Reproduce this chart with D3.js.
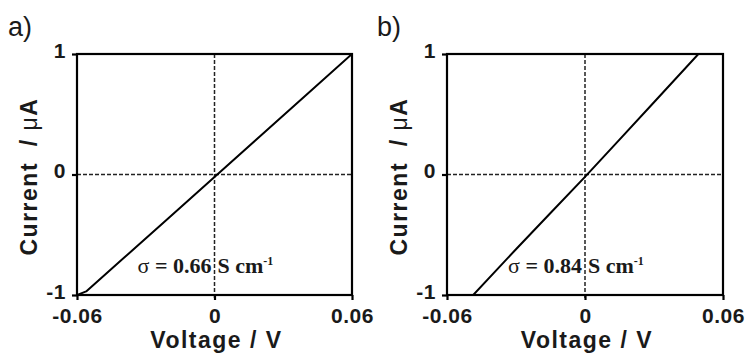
<!DOCTYPE html>
<html>
<head>
<meta charset="utf-8">
<script src="https://cdn.jsdelivr.net/npm/d3@7"></script>
<style>
  body { margin: 0; background: #fff; }
  svg { display: block; }
  .tick text { font-family: "Liberation Sans", Arial, sans-serif; font-weight: bold; font-size: 21px; letter-spacing: 0.5px; fill: #1a1a1a; }
</style>
</head>
<body>
<div id="output"></div>
<script>
// x and y ticks shared by both panels
const xTicks = [-0.06, 0, 0.06];
const xTickLabels = ["-0.06", "0", "0.06"];
const yTicks = [-1, 0, 1];
const yTickLabels = ["-1", "0", "1"];

// panel a) I-V sweep
const voltageA = [-0.06, -0.056, -0.04, -0.02, 0, 0.02, 0.04, 0.06];
const currentA = [-1, -0.97, -0.70, -0.36, -0.02, 0.32, 0.66, 1];

// panel b) I-V sweep
const voltageB = [-0.0486, -0.03, -0.015, 0, 0.015, 0.03, 0.0493];
const currentB = [-1, -0.62, -0.32, -0.02, 0.29, 0.60, 1];

const panelLabels = ["a)", "b)"];
const sigmaValues = ["0.66", "0.84"];

// layout (pixels)
var height = 356, width = 750;
var boxes = [
    {left: 77, right: 352, top: 54, bottom: 295},
    {left: 447, right: 723, top: 54, bottom: 295}
];
var labelX = [8, 377];

var svg = d3.select("#output")
    .append("svg")
    .attr("width", width)
    .attr("height", height);

function panel(i, voltage, current){
    var b = boxes[i];
    var x = d3.scaleLinear().domain([-0.06, 0.06]).range([b.left, b.right]);
    var y = d3.scaleLinear().domain([-1, 1]).range([b.bottom, b.top]);

    var g = svg.append("g");

    // clip so the trace stops at the frame
    g.append("clipPath")
	.attr("id", "clip" + i)
	.append("rect")
	.attr("x", b.left).attr("y", b.top)
	.attr("width", b.right - b.left).attr("height", b.bottom - b.top);

    // dashed zero lines
    g.append("line")
	.attr("x1", x(0)).attr("x2", x(0))
	.attr("y1", y(1)).attr("y2", y(-1) + 4)
	.attr("stroke", "#222").attr("stroke-width", 1.5)
	.attr("stroke-dasharray", "4,2");
    g.append("line")
	.attr("x1", x(-0.06)).attr("x2", x(0.06))
	.attr("y1", y(0)).attr("y2", y(0))
	.attr("stroke", "#222").attr("stroke-width", 1.5)
	.attr("stroke-dasharray", "4,2");

    // the measured trace
    const line = d3.line()
	  .x(d => x(d[0]))
	  .y(d => y(d[1]));
    g.append("path")
	.datum(d3.zip(voltage, current))
	.attr("clip-path", "url(#clip" + i + ")")
	.attr("fill", "none")
	.attr("stroke", "#000")
	.attr("stroke-width", 2)
	.attr("stroke-linejoin", "round")
	.attr("d", line);

    // frame
    g.append("rect")
	.attr("x", b.left).attr("y", b.top)
	.attr("width", b.right - b.left).attr("height", b.bottom - b.top)
	.attr("fill", "none").attr("stroke", "#000").attr("stroke-width", 2.2);

    // axes
    var xAxis = g.append("g")
	.attr("transform", "translate(0," + b.bottom + ")")
	.call(d3.axisBottom(x).tickValues(xTicks)
	      .tickFormat((d, k) => xTickLabels[k])
	      .tickSize(5).tickSizeOuter(0).tickPadding(8));
    var yAxis = g.append("g")
	.attr("transform", "translate(" + b.left + ",0)")
	.call(d3.axisLeft(y).tickValues(yTicks)
	      .tickFormat((d, k) => yTickLabels[k])
	      .tickSize(5).tickSizeOuter(0).tickPadding(6));
    yAxis.selectAll(".tick text").attr("dy", "0.15em");
    [xAxis, yAxis].forEach(a => {
	a.select(".domain").remove();
	a.selectAll(".tick line").attr("stroke", "#000").attr("stroke-width", 2.2);
    });

    // axis titles
    g.append("text")
	.attr("x", (b.left + b.right) / 2 + 2)
	.attr("y", 348)
	.attr("text-anchor", "middle")
	.attr("font-family", "Liberation Sans, Arial, sans-serif")
	.attr("font-weight", "bold")
	.attr("font-size", 23)
	.attr("letter-spacing", 1.5)
	.attr("fill", "#1a1a1a")
	.text("Voltage / V");

    var yt = g.append("text")
	.attr("transform", "translate(" + (b.left - 40) + "," + ((b.top + b.bottom) / 2 + 2) + ") rotate(-90)")
	.attr("text-anchor", "middle")
	.attr("font-family", "Liberation Sans, Arial, sans-serif")
	.attr("font-weight", "bold")
	.attr("font-size", 23)
	.attr("letter-spacing", 1.5)
	.attr("fill", "#1a1a1a");
    yt.append("tspan").text("Current\u00a0\u00a0/ ");
    yt.append("tspan").attr("font-weight", "normal").text("\u03bc");
    yt.append("tspan").text("A");

    // conductivity note, split around the zero line
    var ty = y(-0.82);
    var s1 = g.append("text")
	.attr("x", x(0) - 3).attr("y", ty)
	.attr("text-anchor", "end")
	.attr("font-family", "Liberation Serif, 'Times New Roman', serif")
	.attr("font-weight", "bold")
	.attr("font-size", 22)
	.attr("fill", "#1a1a1a");
    s1.append("tspan").attr("font-weight", "normal").text("\u03c3");
    s1.append("tspan").text(" = " + sigmaValues[i]);
    var s2 = g.append("text")
	.attr("x", x(0) + 3).attr("y", ty)
	.attr("font-family", "Liberation Serif, 'Times New Roman', serif")
	.attr("font-weight", "bold")
	.attr("font-size", 22)
	.attr("fill", "#1a1a1a");
    s2.append("tspan").text("S cm");
    s2.append("tspan").attr("font-size", 12).attr("dy", -8).text("-1");

    // panel letter
    g.append("text")
	.attr("x", labelX[i]).attr("y", 36)
	.attr("font-family", "Liberation Sans, Arial, sans-serif")
	.attr("font-size", 27)
	.attr("fill", "#1a1a1a")
	.text(panelLabels[i]);
}

panel(0, voltageA, currentA);
panel(1, voltageB, currentB);
</script>
</body>
</html>
